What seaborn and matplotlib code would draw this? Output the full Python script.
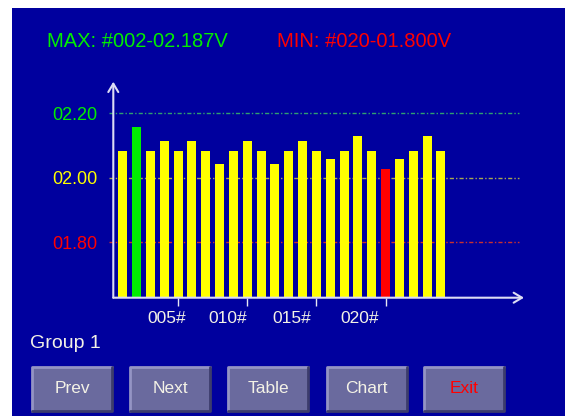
import numpy as np
import pandas as pd
import matplotlib
matplotlib.use("Agg")
import matplotlib.pyplot as plt
import matplotlib.transforms as mtransforms
from matplotlib.patches import Rectangle
import seaborn as sns

# datos
channels = [f"{i:03d}#" for i in range(1, 25)]
voltages = [2.084, 2.156, 2.084, 2.114, 2.084, 2.114, 2.084, 2.041,
            2.084, 2.114, 2.084, 2.041, 2.084, 2.114, 2.084, 2.058,
            2.084, 2.128, 2.084, 2.027, 2.058, 2.084, 2.128, 2.084]
max_idx = 1
min_idx = 19
ytick_vals = [1.80, 2.00, 2.20]
ytick_labels = ["01.80", "02.00", "02.20"]
ytick_colors = ["#ff0000", "#ffff00", "#00ee00"]
xtick_idx = [4, 9, 14, 19]
xtick_labels = ["005#", "010#", "015#", "020#"]
buttons = ["Prev", "Next", "Table", "Chart", "Exit"]
title_max = "MAX: #002-02.187V"
title_min = "MIN: #020-01.800V"
group_label = "Group 1"

BG = "#00009e"
TXT = "#f4f2e6"

sns.set_theme(style="dark")
plt.rcParams["font.family"] = ["Liberation Sans", "DejaVu Sans"]

W, H = 565, 416
fig = plt.figure(figsize=(W / 100, H / 100), dpi=100, facecolor="white")

def px(x, y):
    # coordenadas de pixel (origen arriba a la izquierda) -> fraccion de figura
    return x / W, 1 - y / H

# fondo azul
fig.patches.append(Rectangle(px(12, 416), (W - 12) / W, (416 - 8) / H,
                             transform=fig.transFigure, facecolor=BG,
                             edgecolor="none", zorder=-5))

ax = fig.add_axes([113.3 / W, (H - 297.7) / H, (524 - 113.3) / W, (297.7 - 81.7) / H])
ax.set_facecolor("none")
ax.set_zorder(3)

colors = ["#ffff00"] * len(channels)
colors[max_idx] = "#00ee00"
colors[min_idx] = "#ff0000"
df = pd.DataFrame({"canal": channels, "voltaje": voltages})
sns.barplot(data=df, x="canal", y="voltaje", hue="canal", palette=colors,
            width=0.65, legend=False, ax=ax, saturation=1, zorder=3,
            linewidth=0, edgecolor="none")

ax.set_xlim(-0.68, 29.0)
ax.set_ylim(1.629, 2.297)
for s in ax.spines.values():
    s.set_visible(False)
ax.grid(False)

# lineas de referencia
for v, c in zip(ytick_vals, ["#c83030", "#a8a850", "#30a070"]):
    ax.axhline(v, xmin=-0.01, xmax=0.988, color=c, lw=1,
               linestyle=(0, (3, 1.5, 1, 1.5)), clip_on=False, zorder=1)

# ejes con flecha
akw = dict(arrowstyle="->,head_length=0.5,head_width=0.3", color="#dcdcf4", lw=1.5,
           shrinkA=0, shrinkB=0)
ax.annotate("", xy=(0, 1), xytext=(0, 0), xycoords="axes fraction",
            arrowprops=akw, annotation_clip=False)
ax.annotate("", xy=(1, 0), xytext=(0, 0), xycoords="axes fraction",
            arrowprops=akw, annotation_clip=False)

ax.set_yticks(ytick_vals)
ax.set_yticklabels(ytick_labels, fontsize=13)
for t, c in zip(ax.get_yticklabels(), ytick_colors):
    t.set_color(c)
ax.tick_params(axis="y", length=0, pad=11.5)

ax.set_xticks(xtick_idx)
ax.set_xticklabels(xtick_labels, fontsize=12.5, color=TXT)
ax.tick_params(axis="x", length=6, width=1, color="#e8e8f4", pad=3.5, direction="out",
               bottom=True)
offsets = [-11, -20, -25, -26]
for t, dx in zip(ax.get_xticklabels(), offsets):
    t.set_transform(t.get_transform() + mtransforms.ScaledTranslation(dx / 100, 0, fig.dpi_scale_trans))
ax.set_xlabel("")
ax.set_ylabel("")

# titulos
fig.text(*px(47, 47), title_max, color="#00ee00", fontsize=14.5, va="baseline")
fig.text(*px(277, 47), title_min, color="#ff0000", fontsize=14.5, va="baseline")
fig.text(*px(30, 348), group_label, color=TXT, fontsize=14, va="baseline")

# botones
bx = [32.3, 130, 228.3, 326.7, 424.3]
bw, btop, bh = 80, 366.7, 44
for x0, name in zip(bx, buttons):
    x, y = px(x0, btop + bh)
    fig.patches.append(Rectangle((x, y), bw / W, bh / H, transform=fig.transFigure,
                                 facecolor="#6a6a9e", edgecolor="none", zorder=1))
    # bisel
    fig.lines.append(plt.Line2D([x, x, x + bw / W], [y, y + bh / H, y + bh / H],
                                transform=fig.transFigure, color="#9494c4", lw=2, zorder=2))
    fig.lines.append(plt.Line2D([x, x + bw / W, x + bw / W], [y, y, y + bh / H],
                                transform=fig.transFigure, color="#3c3c6c", lw=2, zorder=2))
    fig.text(x + bw / W / 2, y + bh / H / 2, name, ha="center", va="center",
             fontsize=12.5, color="#ff0000" if name == "Exit" else TXT, zorder=3)

fig.savefig("out.png", dpi=100, facecolor="white")
